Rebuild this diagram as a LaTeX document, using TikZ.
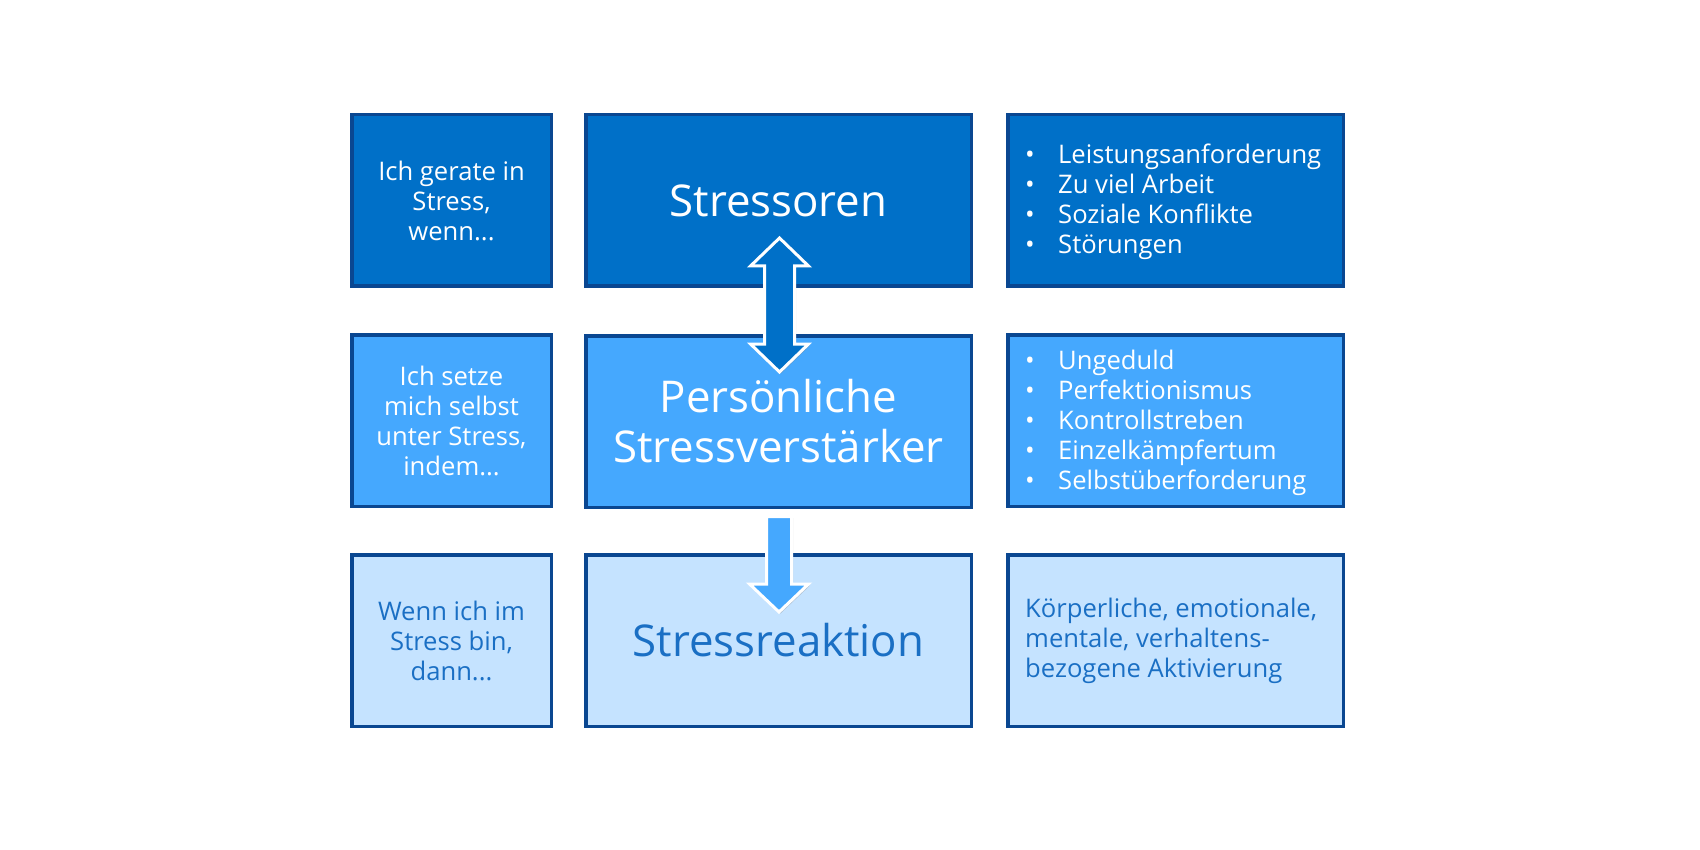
\documentclass[tikz,border=0pt]{standalone}
\usepackage{fontspec}
\setmainfont{Open Sans}
\usetikzlibrary{shadows}
\definecolor{bDark}{HTML}{0070C8}
\definecolor{bMid}{HTML}{45A8FE}
\definecolor{bLight}{HTML}{C5E3FF}
\definecolor{bEdge}{HTML}{0A4791}
\definecolor{bText}{HTML}{1A6FC4}
\newcommand{\smallfnt}{\fontsize{25.6}{30}\selectfont}
\newcommand{\bigfnt}{\fontsize{43.8}{50}\selectfont}
\newcommand{\bul}[1]{\makebox[33pt][l]{•}#1}
\begin{document}
\begin{tikzpicture}[x=1pt,y=-1pt,
  box/.style={draw=bEdge, line width=3.5pt, inner sep=0pt, align=center,
    drop shadow={shadow xshift=1.5pt, shadow yshift=-1.5pt, opacity=0.3}},
  colL/.style={box, minimum width=199.5pt, minimum height=171.5pt, font=\smallfnt},
  colM/.style={box, minimum width=385.5pt, minimum height=171.5pt, font=\bigfnt},
  colR/.style={box, minimum width=335.5pt, minimum height=171.5pt},
  rowA/.style={fill=bDark, text=white},
  rowB/.style={fill=bMid, text=white},
  rowC/.style={fill=bLight, text=bText},
  list/.style={anchor=west, inner sep=0pt, align=left, font=\smallfnt},
  blockarrow/.style={draw=white, line width=3pt, line join=miter,
    drop shadow={shadow xshift=1.5pt, shadow yshift=-1.5pt, opacity=0.35}}
]
\useasboundingbox (0,0) rectangle (1700,850);

% row 1
\node[colL, rowA] (l1) at (451.5,200.5) {Ich gerate in\\Stress,\\wenn...};
\node[colM, rowA] (m1) at (778.5,200.5) {Stressoren};
\node[colR, rowA] (r1) at (1175.5,200.5) {};
\node[list, text=white] (r1t) at (1025,201.5)
  {\bul{Leistungsanforderung}\\\bul{Zu viel Arbeit}\\\bul{Soziale Konflikte}\\\bul{Störungen}};

% row 2
\node[colL, rowB] (l2) at (451.5,420.5) {Ich setze\\mich selbst\\unter Stress,\\indem...};
\node[colM, rowB] (m2) at (778.5,421.5) {Persönliche\\Stressverstärker};
\node[colR, rowB] (r2) at (1175.5,420.5) {};
\node[list, text=white] (r2t) at (1025,423)
  {\bul{Ungeduld}\\\bul{Perfektionismus}\\\bul{Kontrollstreben}\\\bul{Einzelkämpfertum}\\\bul{Selbstüberforderung}};

% row 3
\node[colL, rowC] (l3) at (451.5,640.5) {Wenn ich im\\Stress bin,\\dann...};
\node[colM, rowC] (m3) at (778.5,640.5) {Stressreaktion};
\node[colR, rowC] (r3) at (1175.5,640.5) {};
\node[list, text=bText] (r3t) at (1025,641)
  {Körperliche, emotionale,\\mentale, verhaltens-\\bezogene Aktivierung};

% double arrow Stressoren <-> Persoenliche Stressverstaerker
\filldraw[blockarrow, fill=bDark]
  (779.5,238) -- (808.5,266) -- (794.5,266) -- (794.5,344) -- (808.5,344)
  -- (779.5,372) -- (750.5,344) -- (764.5,344) -- (764.5,266) -- (750.5,266) -- cycle;

% down arrow Persoenliche Stressverstaerker -> Stressreaktion
\filldraw[blockarrow, fill=bMid]
  (766.5,516.5) -- (791.5,516.5) -- (791.5,584) -- (808.5,584)
  -- (779,612) -- (749.5,584) -- (766.5,584) -- cycle;
\end{tikzpicture}
\end{document}
